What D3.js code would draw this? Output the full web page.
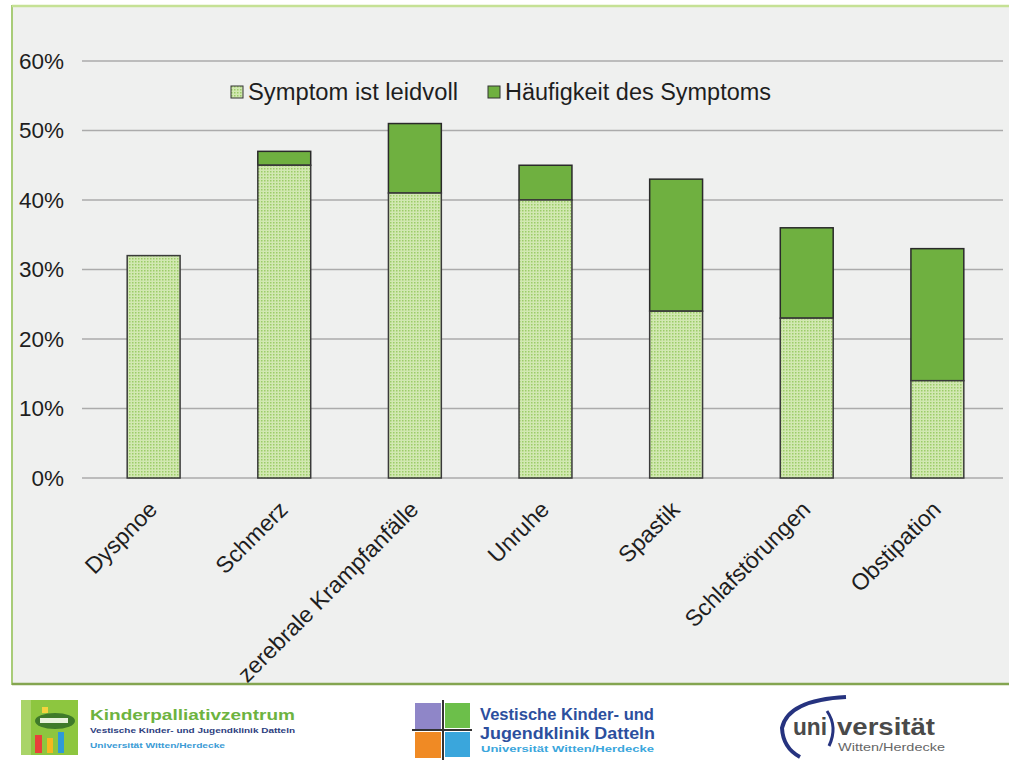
<!DOCTYPE html>
<html><head><meta charset="utf-8">
<script src="https://cdn.jsdelivr.net/npm/d3@7"></script>
<style>body{margin:0;background:#fff}svg{display:block}text{font-family:"Liberation Sans",Arial,sans-serif}</style>
</head><body><svg id="c" width="1009" height="760"></svg>
<script>
const categories = ["Dyspnoe","Schmerz","zerebrale Krampfanfälle","Unruhe","Spastik","Schlafstörungen","Obstipation"];
const leidvoll = [32,45,41,40,24,23,14];            // Symptom ist leidvoll (%)
const haeufigkeit = [32,47,51,45,43,36,33];         // Häufigkeit des Symptoms (%) – total bar height
const seriesNames = ["Symptom ist leidvoll","Häufigkeit des Symptoms"];
const yTicks = [0,10,20,30,40,50,60];

const svg = d3.select("#c");
const defs = svg.append("defs");
const pat = defs.append("pattern").attr("id","dots").attr("width",3).attr("height",3).attr("patternUnits","userSpaceOnUse");
pat.append("rect").attr("width",3).attr("height",3).attr("fill","#d2e8b2");
pat.append("rect").attr("width",1.5).attr("height",1.5).attr("fill","#9ccc68");
const lightFill = "url(#dots)", darkFill = "#6fb040";

// frame
svg.append("rect").attr("x",12).attr("y",6).attr("width",1010).attr("height",678)
  .attr("fill","#eff0ef").attr("stroke","#a8cc78").attr("stroke-width",2);
svg.append("line").attr("x1",12).attr("x2",1009).attr("y1",684).attr("y2",684).attr("stroke","#84a550").attr("stroke-width",2.5);
svg.append("line").attr("x1",12).attr("x2",1009).attr("y1",6).attr("y2",6).attr("stroke","#c5e195").attr("stroke-width",2.5);

const x = d3.scaleBand().domain(categories).range([88,1003]).paddingInner(0.595).paddingOuter(0.3);
const y = d3.scaleLinear().domain([0,60]).range([478,61]);

// gridlines
svg.append("g").selectAll("line").data(yTicks).join("line")
  .attr("x1",82).attr("x2",1003).attr("y1",d=>y(d)).attr("y2",d=>y(d))
  .attr("stroke","#ababab").attr("stroke-width",1.5);

// y axis labels
const ya = svg.append("g").attr("transform","translate(64,0)")
  .call(d3.axisLeft(y).tickValues(yTicks).tickFormat(d=>d+"%").tickSize(0).tickPadding(0));
ya.select(".domain").remove();
ya.selectAll("text").attr("font-size",22.5).attr("fill","#1e1e1e").attr("font-family","Liberation Sans, Arial, sans-serif");

// x axis labels
const xa = svg.append("g").attr("transform","translate(0,478)")
  .call(d3.axisBottom(x).tickSize(0));
xa.select(".domain").remove();
xa.selectAll("text").attr("font-size",23).attr("fill","#1e1e1e").attr("font-family","Liberation Sans, Arial, sans-serif")
  .attr("text-anchor","end").attr("x",0).attr("y",0).attr("dy",0)
  .attr("transform","translate(5,33) rotate(-45)");

// bars
const data = categories.map((c,i)=>({c, low:leidvoll[i], high:haeufigkeit[i]}));
const bars = svg.append("g");
bars.selectAll(".top").data(data).join("rect").attr("class","top")
  .attr("x",d=>x(d.c)).attr("width",x.bandwidth())
  .attr("y",d=>y(d.high)).attr("height",d=>y(d.low)-y(d.high))
  .attr("fill",darkFill).attr("stroke","#2a2a2a").attr("stroke-width",1.5);
bars.selectAll(".low").data(data).join("rect").attr("class","low")
  .attr("x",d=>x(d.c)).attr("width",x.bandwidth())
  .attr("y",d=>y(d.low)).attr("height",d=>y(0)-y(d.low))
  .attr("fill",lightFill).attr("stroke","#3a3a3a").attr("stroke-width",1.5);

// legend
const legX = [231,488];
const legW = [210,266];
const lg = svg.append("g").selectAll("g").data(seriesNames).join("g")
  .attr("transform",(d,i)=>`translate(${legX[i]},86)`);
lg.append("rect").attr("width",12).attr("height",12)
  .attr("fill",(d,i)=>i===0?lightFill:darkFill).attr("stroke","#333").attr("stroke-width",1);
lg.append("text").attr("x",17).attr("y",6).attr("dy","0.36em").attr("font-size",23).attr("fill","#1e1e1e")
  .attr("textLength",(d,i)=>legW[i]).attr("lengthAdjust","spacingAndGlyphs").text(d=>d);

// ---- logos ----
const lo = svg.append("g");
// logo 1
lo.append("rect").attr("x",21).attr("y",700).attr("width",57).attr("height",55).attr("fill","#8dc63f");
lo.append("rect").attr("x",21).attr("y",700).attr("width",10).attr("height",55).attr("fill","#a9d468");
lo.append("ellipse").attr("cx",55).attr("cy",721).attr("rx",20).attr("ry",8).attr("fill","#3f7a2a");
lo.append("rect").attr("x",40).attr("y",718).attr("width",28).attr("height",5).attr("fill","#e9f2dd");
lo.append("rect").attr("x",42).attr("y",707).attr("width",6).attr("height",6).attr("fill","#f5d33d");
lo.append("rect").attr("x",35).attr("y",735).attr("width",7).attr("height",18).attr("fill","#e8413a");
lo.append("rect").attr("x",47).attr("y",738).attr("width",6).attr("height",15).attr("fill","#f6b81f");
lo.append("rect").attr("x",58).attr("y",732).attr("width",6).attr("height",21).attr("fill","#2e9ad8");
lo.append("text").attr("x",90).attr("y",720).attr("font-size",15).attr("font-weight","bold").attr("fill","#6db33f")
  .attr("textLength",205).attr("lengthAdjust","spacingAndGlyphs").text("Kinderpalliativzentrum");
lo.append("text").attr("x",90).attr("y",733).attr("font-size",8).attr("font-weight","bold").attr("fill","#2d3e80")
  .attr("textLength",205).attr("lengthAdjust","spacingAndGlyphs").text("Vestische Kinder- und Jugendklinik Datteln");
lo.append("text").attr("x",90).attr("y",748).attr("font-size",8).attr("font-weight","bold").attr("fill","#3a9bd5")
  .attr("textLength",135).attr("lengthAdjust","spacingAndGlyphs").text("Universität Witten/Herdecke");
// logo 2
lo.append("rect").attr("x",415).attr("y",703).attr("width",26).attr("height",26).attr("fill","#8f86c8");
lo.append("rect").attr("x",445).attr("y",703).attr("width",25).attr("height",25).attr("fill","#6cbf4a");
lo.append("rect").attr("x",415).attr("y",732).attr("width",26).attr("height",26).attr("fill","#f08a24");
lo.append("rect").attr("x",445).attr("y",732).attr("width",25).attr("height",25).attr("fill","#3aa6dc");
lo.append("line").attr("x1",443).attr("x2",443).attr("y1",700).attr("y2",760).attr("stroke","#333").attr("stroke-width",2);
lo.append("line").attr("x1",412).attr("x2",472).attr("y1",730).attr("y2",730).attr("stroke","#333").attr("stroke-width",2);
lo.append("text").attr("x",480).attr("y",720).attr("font-size",17).attr("font-weight","bold").attr("fill","#2c4f9e")
  .attr("textLength",174).attr("lengthAdjust","spacingAndGlyphs").text("Vestische Kinder- und");
lo.append("text").attr("x",480).attr("y",739).attr("font-size",17).attr("font-weight","bold").attr("fill","#2c4f9e")
  .attr("textLength",175).attr("lengthAdjust","spacingAndGlyphs").text("Jugendklinik Datteln");
lo.append("text").attr("x",481).attr("y",752).attr("font-size",9).attr("font-weight","bold").attr("fill","#3aa6dc")
  .attr("textLength",173).attr("lengthAdjust","spacingAndGlyphs").text("Universität Witten/Herdecke");
// logo 3
lo.append("path").attr("d","M 846 697 Q 788 700 782 728 Q 783 748 800 757").attr("fill","none").attr("stroke","#26337f").attr("stroke-width",4);
lo.append("path").attr("d","M 827 711 Q 838 727 829 746").attr("fill","none").attr("stroke","#26337f").attr("stroke-width",3);
lo.append("text").attr("x",793).attr("y",735).attr("font-size",23).attr("font-weight","bold").attr("fill","#4a4a4a")
  .attr("textLength",34).attr("lengthAdjust","spacingAndGlyphs").text("uni");
lo.append("text").attr("x",837).attr("y",735).attr("font-size",23).attr("font-weight","bold").attr("fill","#4a4a4a")
  .attr("textLength",98).attr("lengthAdjust","spacingAndGlyphs").text("versität");
lo.append("text").attr("x",838).attr("y",751).attr("font-size",11).attr("fill","#666")
  .attr("textLength",107).attr("lengthAdjust","spacingAndGlyphs").text("Witten/Herdecke");
</script></body></html>
